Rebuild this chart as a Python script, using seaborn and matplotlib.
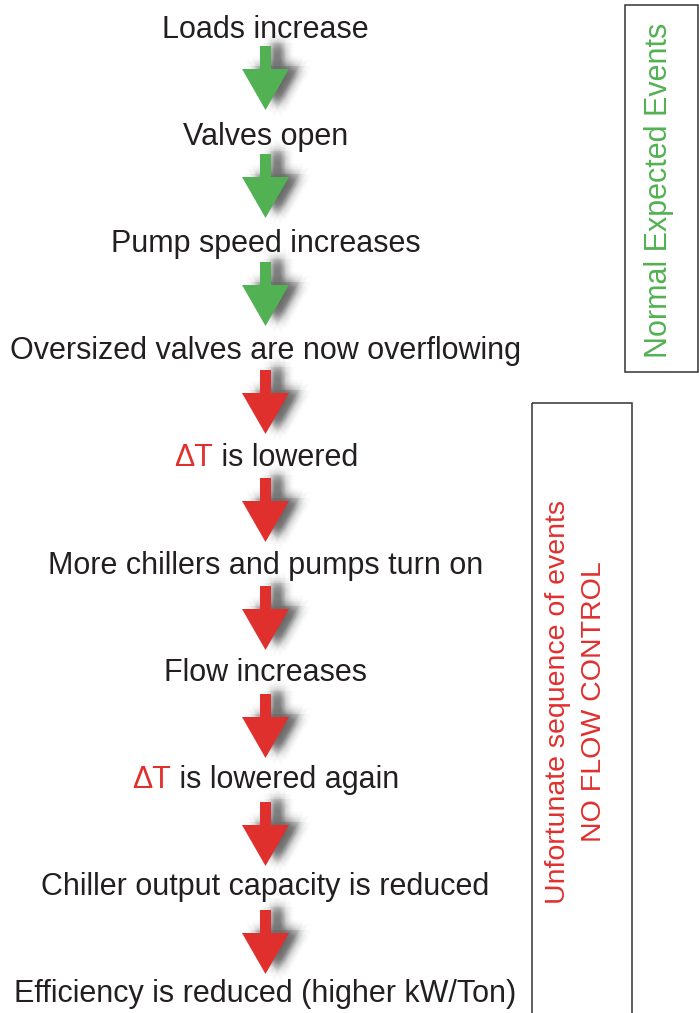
import numpy as np
import matplotlib
matplotlib.use("Agg")
import matplotlib.pyplot as plt
from matplotlib.patches import Polygon, Rectangle
import seaborn as sns

# chain of events, top to bottom
steps = [
    "Loads increase",
    "Valves open",
    "Pump speed increases",
    "Oversized valves are now overflowing",
    "\u0394T| is lowered",
    "More chillers and pumps turn on",
    "Flow increases",
    "\u0394T| is lowered again",
    "Chiller output capacity is reduced",
    "Efficiency is reduced (higher kW/Ton)",
]
# kind of arrow leading out of each step (the last step has none)
arrow_kind = ["normal", "normal", "normal", "bad", "bad", "bad", "bad", "bad", "bad"]

label_normal = "Normal Expected Events"
label_bad = "Unfortunate sequence of events\nNO FLOW CONTROL"

GREEN = "#52b152"
RED = "#e0302e"
INK = "#231f20"
colors = {"normal": GREEN, "bad": RED}

sns.set_theme(style="white")
plt.rcParams["font.family"] = ["Liberation Sans", "DejaVu Sans"]

W, H = 699, 1013
fig = plt.figure(figsize=(W / 100, H / 100), dpi=100)
ax = fig.add_axes([0, 0, 1, 1])
ax.set_xlim(0, W)
# one unit on y = one step (text baselines)
px = 107.2
base0 = 37.5
ax.set_ylim((H - base0) / px, -base0 / px)
ax.axis("off")

y_of = lambda p: (p - base0) / px
xc = 265.5
fs = 22


def draw_arrow(i, col):
    top_px = 46 + 108.0 * i
    top, neck, tip = y_of(top_px), y_of(top_px + 23), y_of(top_px + 64)
    sw, hw = 5.5, 23.5
    pts = np.array([[xc - sw, top], [xc + sw, top], [xc + sw, neck], [xc + hw, neck],
                    [xc, tip], [xc - hw, neck], [xc - sw, neck]])
    # soft shadow: stacked translucent copies offset to the right
    for r in np.linspace(1, 11, 9):
        for a in np.linspace(0, 2 * np.pi, 10, endpoint=False):
            sh = pts + np.array([12 + r * np.cos(a), (-3 + r * np.sin(a)) / px])
            ax.add_patch(Polygon(sh, closed=True, fc="black", ec="none", alpha=0.008, zorder=1))
    ax.add_patch(Polygon(pts, closed=True, fc=col, ec="none", zorder=3))


for i, kind in enumerate(arrow_kind):
    draw_arrow(i, colors[kind])

fig.canvas.draw()
renderer = fig.canvas.get_renderer()
for i, s in enumerate(steps):
    if "|" in s:
        head, rest = s.split("|")
        # measure the whole line so the two-colour text stays centred
        t = ax.text(xc, i, head + rest, fontsize=fs, ha="center", va="baseline")
        bb = t.get_window_extent(renderer)
        t.remove()
        x0 = ax.transData.inverted().transform((bb.x0, 0))[0]
        t1 = ax.text(x0, i, head, fontsize=fs, ha="left", va="baseline", color=RED)
        ax.annotate(rest, xy=(1, 0), xycoords=t1, ha="left", va="bottom", fontsize=fs, color=INK)
    else:
        ax.text(xc, i, s, fontsize=fs, ha="center", va="baseline", color=INK)

# side boxes
ax.add_patch(Rectangle((625, y_of(5)), 73, y_of(372) - y_of(5), fill=False, ec="#333333", lw=1.1, zorder=2))
ax.text(659, y_of(190), label_normal, rotation=90, fontsize=fs, color=GREEN, ha="center", va="center")

ax.add_patch(Rectangle((532, y_of(403)), 100, y_of(1020) - y_of(403), fill=False, ec="#333333", lw=1.1, zorder=2))
ax.text(576, y_of(702), label_bad, rotation=90, fontsize=20.5, color=RED, ha="center", va="center",
        multialignment="center", linespacing=1.5)

fig.savefig("out.png", dpi=100, facecolor="white")
